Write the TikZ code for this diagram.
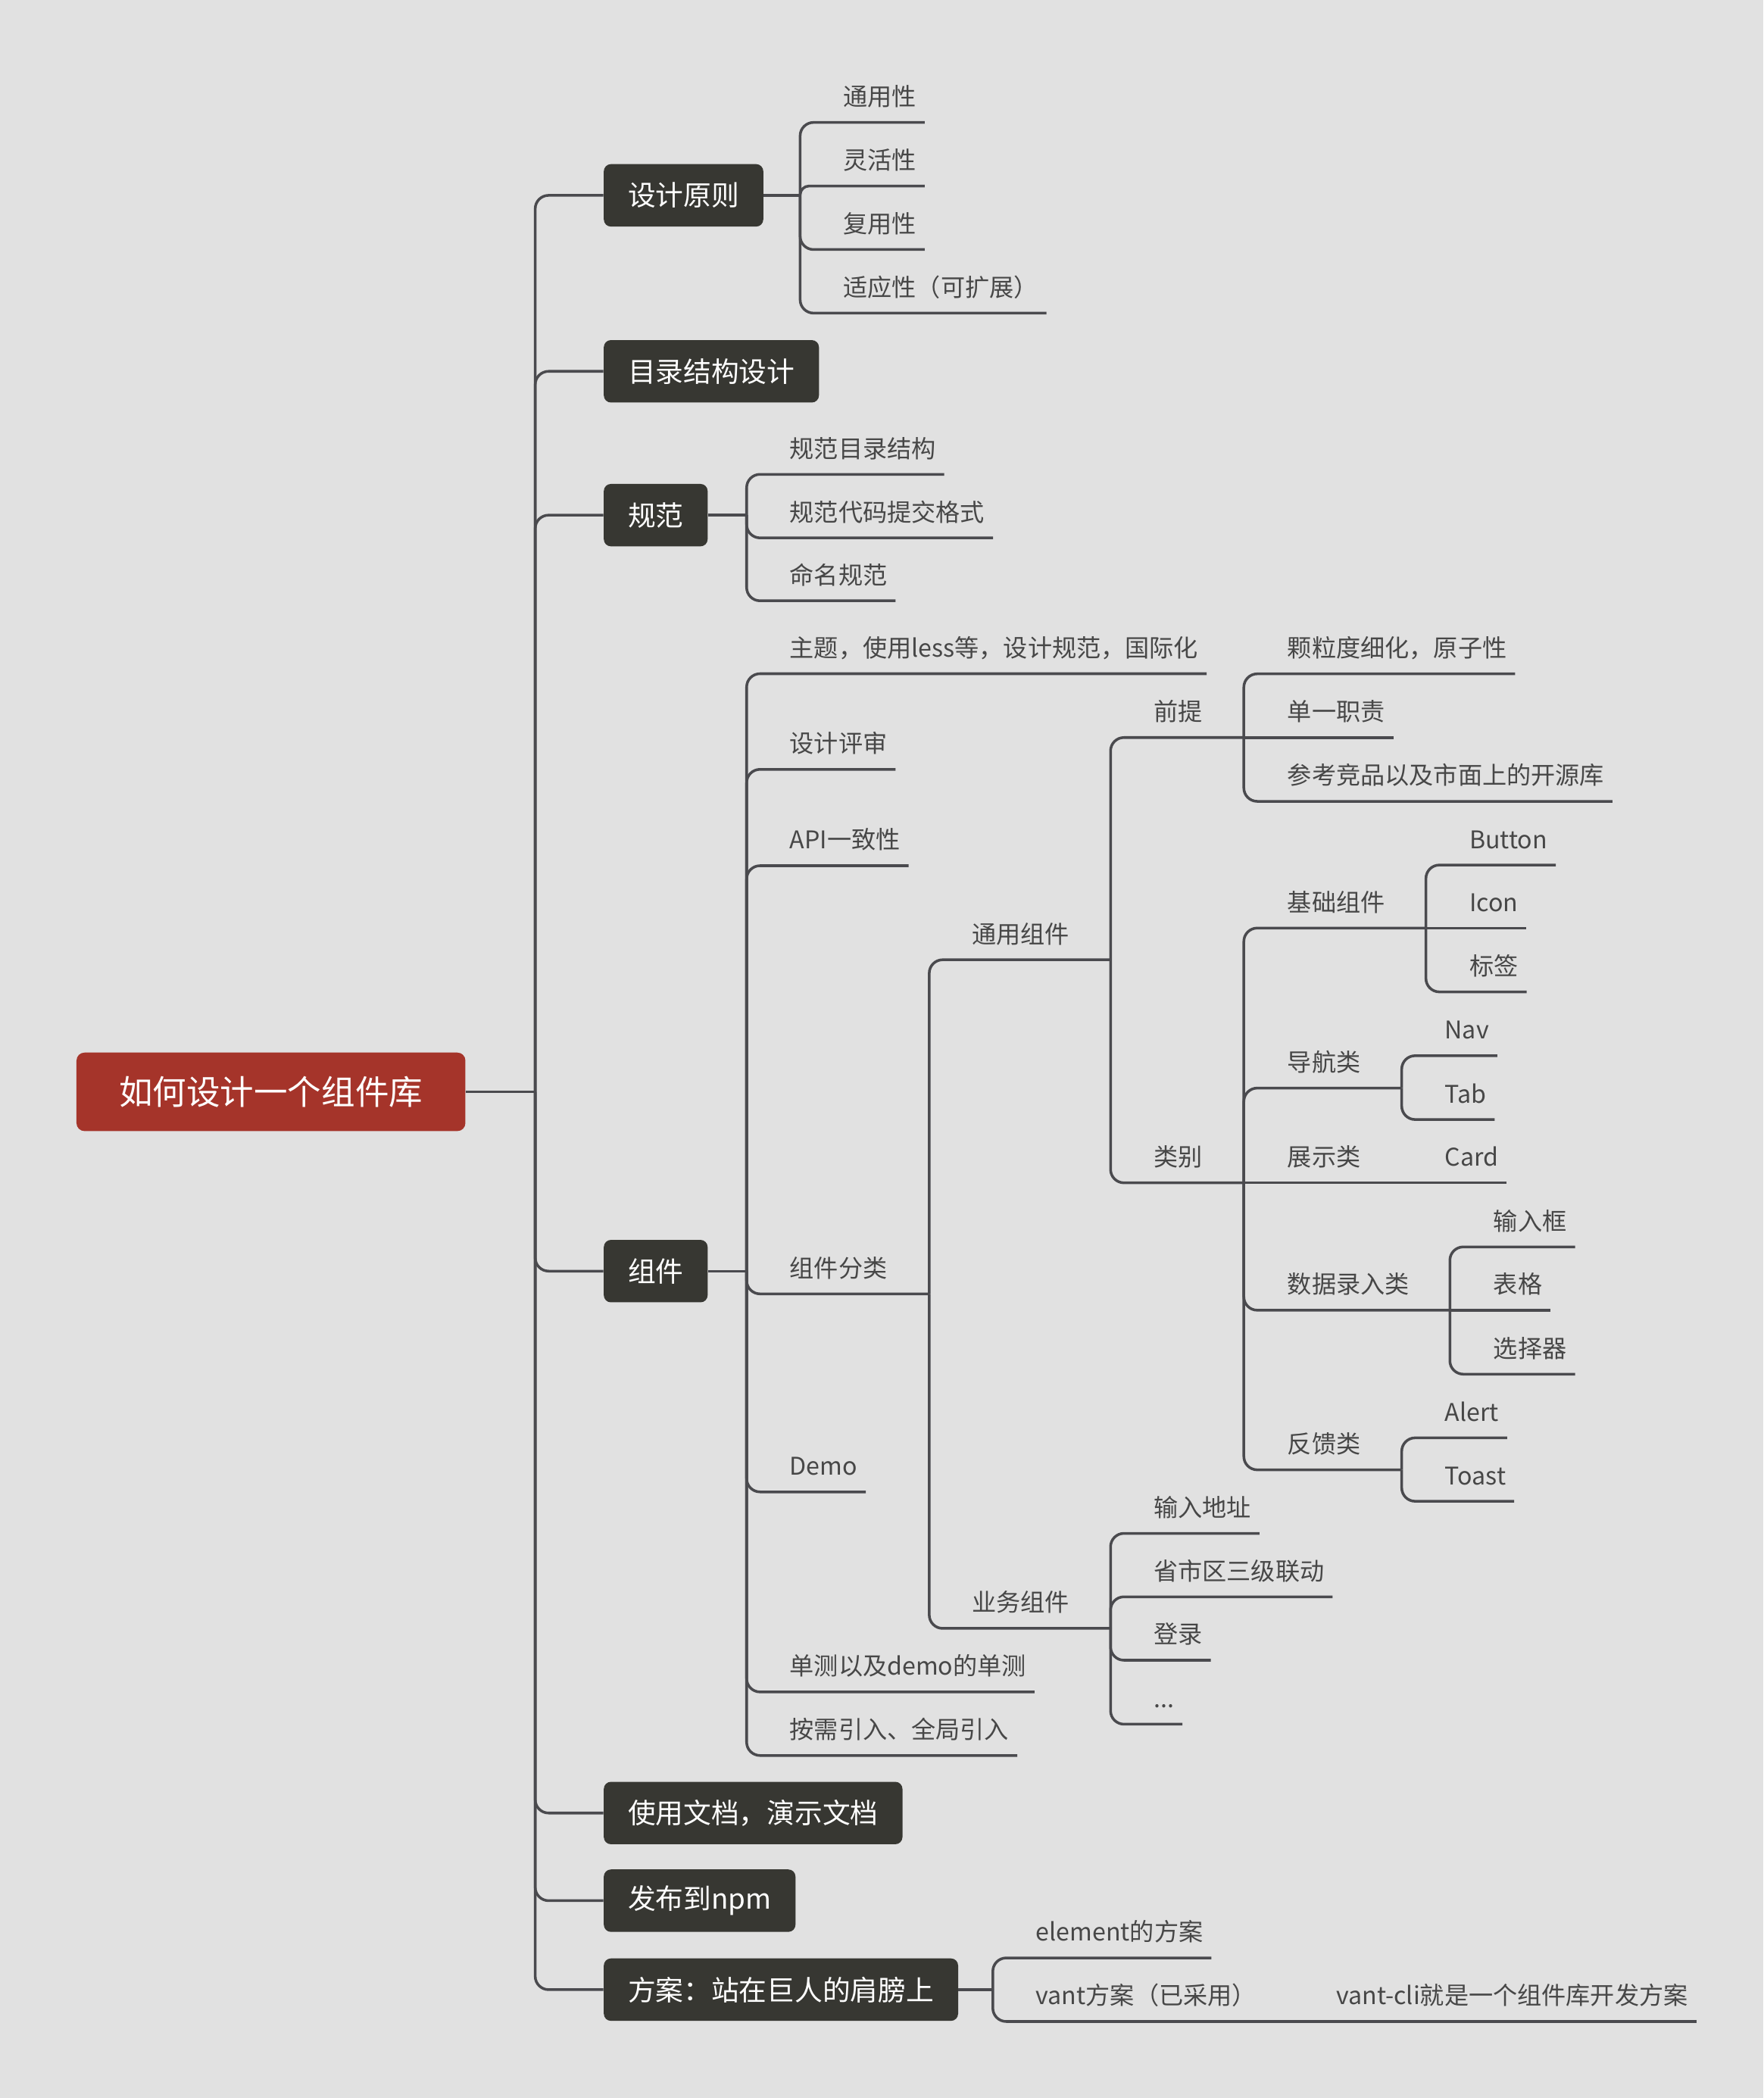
\documentclass[tikz,border=0pt]{standalone}
\usepackage{fontspec}
\newfontfamily\cjk{Noto Sans CJK SC}
\definecolor{bgc}{HTML}{E1E1E1}
\definecolor{linec}{HTML}{4A4A4E}
\definecolor{txtc}{HTML}{474747}
\definecolor{boxc}{HTML}{373732}
\definecolor{rootc}{HTML}{A5342A}
\tikzset{
 conn/.style={draw=linec, line width=1.5pt, rounded corners=7.5pt},
 straightln/.style={draw=linec, line width=1.5pt},
 lbl/.style={anchor=base west, inner sep=0pt, text=txtc, font=\cjk\fontsize{13.65pt}{16pt}\selectfont},
 topic/.style={anchor=west, fill=boxc, text=white, rounded corners=4pt, inner xsep=13.5pt, inner ysep=0pt, minimum height=35pt, font=\cjk\fontsize{15.6pt}{18pt}\selectfont},
 rootbox/.style={fill=rootc, text=white, rounded corners=4.5pt, minimum width=218pt, minimum height=44pt, inner sep=0pt, font=\cjk\fontsize{18.9pt}{22pt}\selectfont},
}
% #1 style, #2 name, #3 junction, #4 text x, #5 line y, #6 text
\newcommand\leaf[6][conn]{%
  \node[lbl] (#2) at (#4,#5-12.5) {#6};
  \draw[#1] (#3) |- ([shift={(6,12.5)}]#2.base east);
}
\begin{document}
\begin{tikzpicture}[x=0.75pt,y=-0.75pt]
\fill[bgc] (0,0) rectangle (1318,1568);
\useasboundingbox (0,0) rectangle (1318,1568);

% root
\node[rootbox] (root) at (202.5,816) {如何设计一个组件库};
\coordinate (J0) at (400,816);
\draw[straightln] (root.east) -- (J0);

% main topics
\node[topic] (t1) at (451,146) {设计原则};
\node[topic] (t2) at (451,277.5) {目录结构设计};
\node[topic] (t3) at (451,385) {规范};
\node[topic] (t4) at (451,950) {组件};
\node[topic] (t5) at (451,1355) {使用文档，演示文档};
\node[topic] (t6) at (451,1420.5) {发布到npm};
\node[topic] (t7) at (451,1487) {方案：站在巨人的肩膀上};
\foreach \t in {t1,t2,t3,t4,t5,t6,t7} \draw[conn] (J0) |- (\t.west);

% 设计原则
\coordinate (J1) at (598,146);
\draw[straightln] (t1.east) -- (J1);
\leaf{a1}{J1}{630}{91.5}{通用性}
\leaf[conn,rounded corners=5pt]{a2}{J1}{630}{139}{灵活性}
\leaf{a3}{J1}{630}{186.5}{复用性}
\leaf{a4}{J1}{630}{234}{适应性（可扩展）}

% 规范
\coordinate (J3) at (558,385);
\draw[straightln] (t3.east) -- (J3);
\leaf{b1}{J3}{590}{354.5}{规范目录结构}
\leaf{b2}{J3}{590}{402}{规范代码提交格式}
\leaf{b3}{J3}{590}{449}{命名规范}

% 组件
\coordinate (J4) at (558,950);
\draw[straightln] (t4.east) -- (J4);
\leaf{c1}{J4}{590}{503.5}{主题，使用less等，设计规范，国际化}
\leaf{c2}{J4}{590}{575}{设计评审}
\leaf{c3}{J4}{590}{647}{API一致性}
\node[lbl] (c4) at (590,967-12.5) {组件分类};
\coordinate (J44) at (694.5,967);
\draw[conn] (J4) |- (J44);
\leaf{c5}{J4}{590}{1115}{Demo}
\leaf{c6}{J4}{590}{1264.5}{单测以及demo的单测}
\leaf{c7}{J4}{590}{1312}{按需引入、全局引入}

% 组件分类
\node[lbl] (d1) at (726,717.3-12.5) {通用组件};
\coordinate (Jd1) at (830,717.3);
\draw[conn] (J44) |- (Jd1);
\node[lbl] (d2) at (726,1217-12.5) {业务组件};
\coordinate (Jd2) at (830,1217);
\draw[conn] (J44) |- (Jd2);

% 通用组件
\node[lbl] (e1) at (862,551.2-12.5) {前提};
\coordinate (Je1) at (929.6,551.2);
\draw[conn] (Jd1) |- (Je1);
\node[lbl] (e2) at (862,884-12.5) {类别};
\coordinate (Je2) at (929.6,884);
\draw[conn] (Jd1) |- (Je2);

% 前提
\leaf{f1}{Je1}{962}{503.6}{颗粒度细化，原子性}
\leaf[straightln]{f2}{Je1}{962}{551.2}{单一职责}
\leaf{f3}{Je1}{962}{598.9}{参考竞品以及市面上的开源库}

% 类别
\node[lbl] (g1) at (962,693.6-12.5) {基础组件};
\coordinate (Jg1) at (1065.7,693.6);
\draw[conn] (Je2) |- (Jg1);
\node[lbl] (g2) at (962,813.2-12.5) {导航类};
\coordinate (Jg2) at (1047.6,813.2);
\draw[conn] (Je2) |- (Jg2);
\node[lbl] (g3) at (962,884-12.5) {展示类};
\coordinate (Jg3) at (1047.6,884);
\draw[straightln] (Je2) -- (Jg3);
\node[lbl] (g4) at (962,979.2-12.5) {数据录入类};
\coordinate (Jg4) at (1083.6,979.2);
\draw[conn] (Je2) |- (Jg4);
\node[lbl] (g5) at (962,1098.5-12.5) {反馈类};
\coordinate (Jg5) at (1047.6,1098.5);
\draw[conn] (Je2) |- (Jg5);

% 基础组件
\leaf{h1}{Jg1}{1098}{646.5}{Button}
\leaf[straightln]{h2}{Jg1}{1098}{693.6}{Icon}
\leaf{h3}{Jg1}{1098}{741.3}{标签}
% 导航类
\leaf{h4}{Jg2}{1079.6}{789}{Nav}
\leaf{h5}{Jg2}{1079.6}{836.7}{Tab}
% 展示类
\leaf[straightln]{h6}{Jg3}{1079.6}{884}{Card}
% 数据录入类
\leaf{h7}{Jg4}{1116}{931.9}{输入框}
\leaf[straightln]{h8}{Jg4}{1116}{979.2}{表格}
\leaf{h9}{Jg4}{1116}{1027}{选择器}
% 反馈类
\leaf{h10}{Jg5}{1079.6}{1074.6}{Alert}
\leaf{h11}{Jg5}{1079.6}{1122}{Toast}

% 业务组件
\leaf{k1}{Jd2}{862}{1146}{输入地址}
\leaf{k2}{Jd2}{862}{1193.4}{省市区三级联动}
\leaf{k3}{Jd2}{862}{1240.8}{登录}
\leaf{k4}{Jd2}{862}{1288.6}{...}

% 方案
\coordinate (J7) at (742,1487);
\draw[straightln] (t7.east) -- (J7);
\leaf{m1}{J7}{774}{1463.3}{element的方案}
\node[lbl] (m2) at (774,1510.8-12.5) {vant方案（已采用）};
\coordinate (Jm2) at (966.5,1510.8);
\draw[conn] (J7) |- (Jm2);
\leaf[straightln]{m3}{Jm2}{998.5}{1510.8}{vant-cli就是一个组件库开发方案}
\end{tikzpicture}
\end{document}
